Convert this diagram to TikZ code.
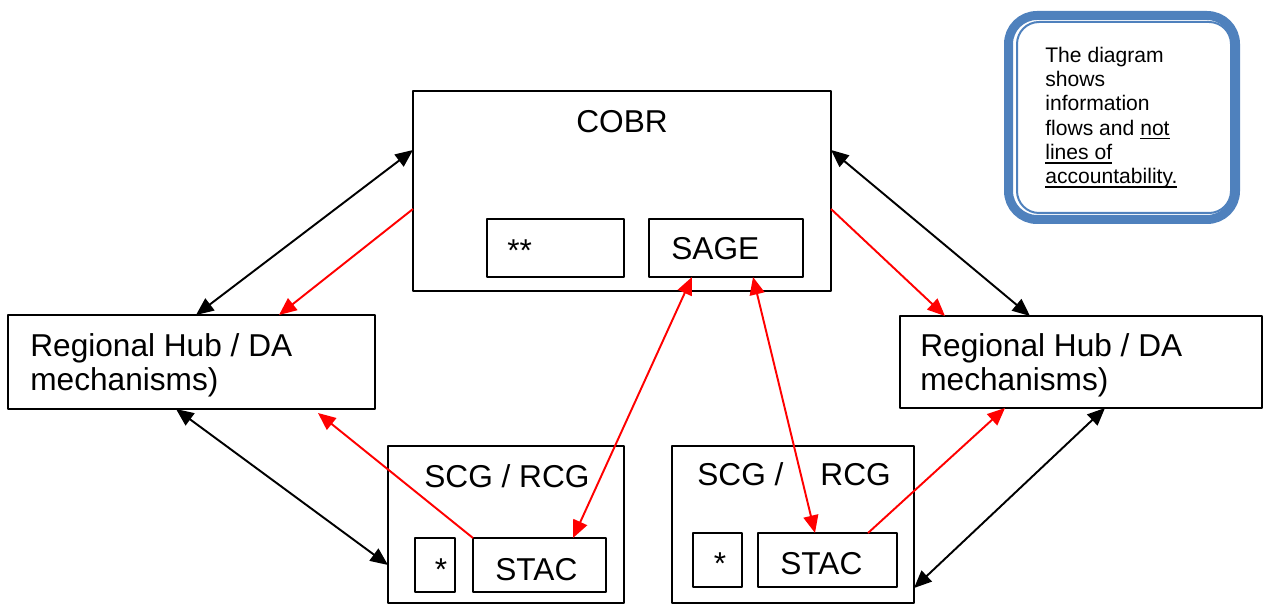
\documentclass[tikz,border=0pt]{standalone}
\usepackage{fontspec}
\setmainfont{Liberation Sans}
\usetikzlibrary{arrows.meta,calc,fit}
\definecolor{noteblue}{RGB}{79,129,189}
\newsavebox\undlbox
\newcommand{\undl}[1]{\sbox\undlbox{#1}\rlap{\rule[-2.2pt]{\wd\undlbox}{0.8pt}}\usebox\undlbox}
\begin{document}
\begin{tikzpicture}[x=0.02cm, y=-0.02cm, line join=round, >={Triangle[length=10pt,width=8.5pt]},
	box/.style={draw, line width=1.1pt, inner sep=0pt, outer sep=0pt},
	txt/.style={inner sep=0pt, anchor=base west, align=left, font=\fontsize{18}{19.9}\selectfont},
	link/.style={line width=1.1pt, <->},
	flow/.style={red, line width=1.1pt}]
	\useasboundingbox (0,0) rectangle (1264,604);
	% boxes
	\node[box, fit={(413,91) (831,291)}] (cobr) {};
	\node[box, fit={(487,219) (624,277)}] (stars) {};
	\node[box, fit={(649,219) (803,277)}] (sage) {};
	\node[box, fit={(8,315) (375,409)}] (regl) {};
	\node[box, fit={(900,316) (1262,408)}] (regr) {};
	\node[box, fit={(388,446) (624,603)}] (scgl) {};
	\node[box, fit={(415,538) (455,592)}] (starl) {};
	\node[box, fit={(473,538) (606,592)}] (stacl) {};
	\node[box, fit={(672,446) (914,603)}] (scgr) {};
	\node[box, fit={(693,533) (742,587)}] (starr) {};
	\node[box, fit={(758,533) (897,587)}] (stacr) {};
	% texts
	\node[txt, anchor=base] (tcobr) at (622,133) {COBR};
	\node[txt] (tstars) at (507,262) {**};
	\node[txt] (tsage) at (671,260) {SAGE};
	\node[txt] (tregl) at (30,391) {Regional Hub / DA\\mechanisms)};
	\node[txt] (tregr) at (920,391) {Regional Hub / DA\\mechanisms)};
	\node[txt] (tscgl) at (424,487) {SCG / RCG};
	\node[txt] (tscgr) at (697,485) {SCG /\hspace{1.17em}RCG};
	\node[txt, anchor=base] (tstarl) at (441,580) {*};
	\node[txt] (tstacl) at (495,580) {STAC};
	\node[txt, anchor=base] (tstarr) at (720,574) {*};
	\node[txt] (tstacr) at (780,574) {STAC};
	% note
	\draw[noteblue, line width=0.18cm, rounded corners=0.57cm] (1008.5,15.5) rectangle (1235.5,219.5);
	\draw[noteblue, line width=0.04cm, rounded corners=0.44cm] (1017,22) rectangle (1231,213);
	\node[txt, font=\fontsize{12}{13.85}\selectfont] (tnote) at (1045,184)
		{The diagram\\shows\\information\\flows and \undl{not}\\\undl{lines of}\\\undl{accountability.}};
	% information flows
	\draw[link] ($(cobr.north west)+(0,59)$) -- ($(regl.north west)+(188,0)$);
	\draw[flow, ->] ($(cobr.north west)+(0,118)$) -- ($(regl.north west)+(271,0)$);
	\draw[link] ($(cobr.north east)+(0,59)$) -- ($(regr.north west)+(130,0)$);
	\draw[flow, ->] ($(cobr.north east)+(0,118)$) -- ($(regr.north west)+(45,0)$);
	\draw[link] ($(regl.south west)+(168,0)$) -- ($(scgl.north west)+(0,119)$);
	\draw[flow, ->] (stacl.north west) -- ($(regl.south west)+(310,4)$);
	\draw[flow, <->] ($(sage.south west)+(43,0)$) -- ($(stacl.north west)+(100,0)$);
	\draw[flow, <->] ($(sage.south west)+(104,0)$) -- ($(stacr.north west)+(57,0)$);
	\draw[flow, ->] ($(stacr.north west)+(110,0)$) -- ($(regr.south west)+(105,0)$);
	\draw[link] ($(regr.south west)+(205,0)$) -- ($(scgr.north east)+(0,142)$);
\end{tikzpicture}
\end{document}
